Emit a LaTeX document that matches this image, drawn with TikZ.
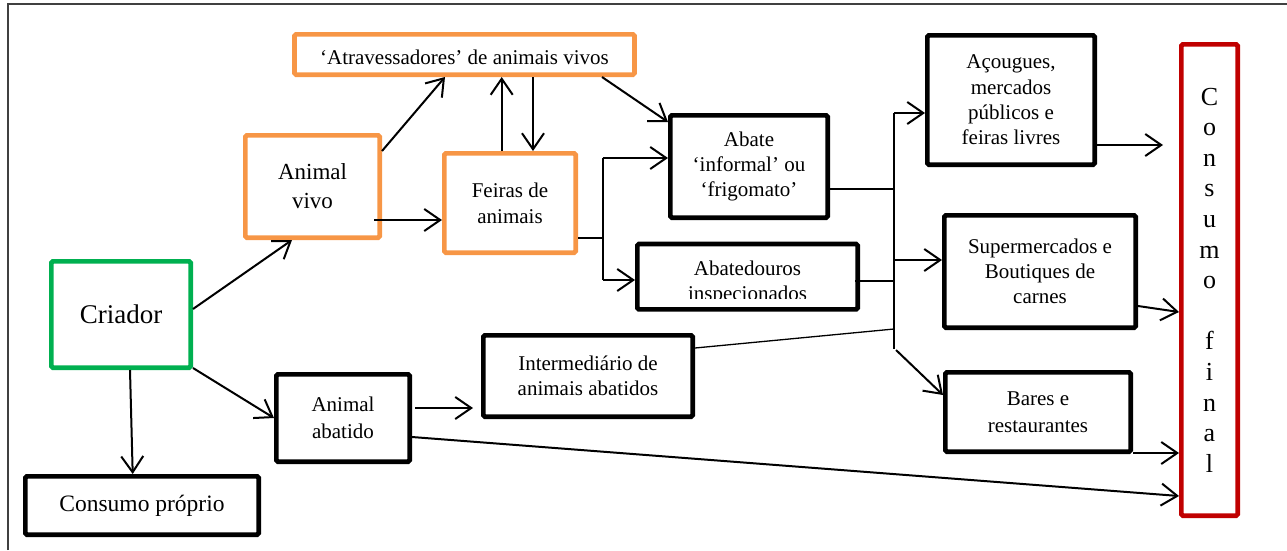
\documentclass[tikz,border=0pt]{standalone}
\usepackage{fontspec}
\setmainfont{Liberation Serif}
\usetikzlibrary{arrows.meta,calc}
\definecolor{orng}{RGB}{247,150,70}
\definecolor{grn}{RGB}{0,176,80}
\definecolor{rd}{RGB}{192,0,0}
\begin{document}
\begin{tikzpicture}[x=1pt,y=-1pt,
  box/.style={draw, line width=4.7pt, rounded corners=1.5pt, inner sep=0pt, align=center, font=\fontsize{21}{25.3}\selectfont},
  obox/.style={box, draw=orng},
  kbox/.style={box, draw=black},
  txt/.style={inner sep=0pt, font=\fontsize{21}{25.3}\selectfont},
  arr/.style={line width=2pt, -{Straight Barb[length=16pt,width=22pt]}},
  ln/.style={line width=2pt},
  thin/.style={line width=1.3pt}]
\useasboundingbox (0,0) rectangle (1287,550);
% frame
\draw[line width=1.3pt, black!75] (8,550) -- (8,4) -- (1287,4);

% boxes
\node[obox, minimum width=340pt, minimum height=40.3pt] (atr) at (464.5,54.5) {};
\begin{scope}
  \clip (295,35) rectangle (634,64.5);
  \node[txt, anchor=base] (atrt) at (464.5,64.5) {‘Atravessadores’ de animais vivos};
\end{scope}
\node[obox, minimum width=134.3pt, minimum height=102.3pt, font=\fontsize{23}{29}\selectfont] (viv) at (312.5,186.5) {Animal\\vivo};
\node[obox, minimum width=131.3pt, minimum height=99.3pt, font=\fontsize{21}{26}\selectfont] (fei) at (510,203) {Feiras de\\animais};
\node[kbox, minimum width=157.3pt, minimum height=102.3pt] (aba) at (749,166.5) {Abate\\‘informal’ ou\\‘frigomato’};
\node[kbox, minimum width=220.3pt, minimum height=65.3pt] (abd) at (747.5,276.7) {};
\begin{scope}
  \clip (640,245) rectangle (855,298.3);
  \node[txt, anchor=base] (abdt1) at (747.5,275) {Abatedouros};
  \node[txt, anchor=base] (abdt2) at (747.5,300) {inspecionados};
\end{scope}
\node[kbox, minimum width=167.3pt, minimum height=129.3pt] (aco) at (1011,100) {Açougues,\\mercados\\públicos e\\feiras livres};
\node[kbox, minimum width=191.3pt, minimum height=112.3pt] (sup) at (1040,271.5) {Supermercados e\\Boutiques de\\carnes};
\node[kbox, minimum width=185.3pt, minimum height=79.3pt, font=\fontsize{21}{26.7}\selectfont] (bar) at (1038,412) {Bares e\\restaurantes};
\node[box, draw=rd, minimum width=56.3pt, minimum height=471.3pt, font=\fontsize{26}{30.6}\selectfont] (con) at (1209.5,280) {C\\o\\n\\s\\u\\m\\o\\\mbox{}\\f\\i\\n\\a\\l};
\node[box, draw=grn, minimum width=139.3pt, minimum height=106.3pt, font=\fontsize{27}{32}\selectfont] (cri) at (121,314.5) {Criador};
\node[kbox, minimum width=133.3pt, minimum height=87.3pt, font=\fontsize{21}{26.7}\selectfont] (aab) at (343,418) {Animal\\abatido};
\node[kbox, minimum width=233.3pt, minimum height=58.3pt, font=\fontsize{23.5}{28}\selectfont] (cpr) at (142,505.5) {Consumo próprio};
\node[kbox, minimum width=209.3pt, minimum height=81.3pt, font=\fontsize{21}{24.5}\selectfont] (int) at (588,376) {Intermediário de\\animais abatidos};

% connectors
\draw[arr] ([yshift=5.5pt]cri.east) -- ([xshift=-20.5pt]viv.south);
\draw[arr] ([yshift=35.5pt]viv.east) -- ([xshift=-19.5pt]atr.south);
\draw[arr] ([xshift=-8pt,yshift=-33.5pt]viv.east) -- ([yshift=-17pt]fei.west);
\draw[arr] ([xshift=-8.3pt]fei.north) -- ([xshift=37.2pt]atr.south);
\draw[arr] ([xshift=68.5pt]atr.south) -- ([xshift=23pt]fei.north);
\draw[arr] ([xshift=137.5pt]atr.south) -- ([yshift=44.5pt]aba.west);

\coordinate (jt) at (602.7,158);
\coordinate (jb) at (602.7,280);
\coordinate (fo) at ([yshift=-34.7pt]fei.east);
\draw[ln] (fo) -- (fo -| jt);
\draw[ln] (jt) -- (jb);
\draw[arr] (jt) -- ([yshift=8.5pt]aba.west);
\draw[arr] (jb) -- (jb -| abd.west);

% bus
\coordinate (bt) at (894,113);
\coordinate (bb) at (894,349);
\coordinate (bs) at (894,260);
\coordinate (bi) at (894,329);
\coordinate (bd) at (896,350);
\draw[ln] (bt) -- (bb);
\coordinate (ao) at ([yshift=-22.5pt]aba.east);
\draw[ln] (ao) -- (ao -| bt);
\coordinate (do) at ([xshift=-5pt,yshift=-4pt]abd.east);
\draw[ln] (do) -- (do -| bt);
\draw[thin] ([yshift=28pt]int.east) -- (bi);
\draw[arr] (bt) -- ([yshift=-13pt]aco.west);
\draw[arr] (bs) -- ([yshift=11.5pt]sup.west);
\draw[arr] (bd) -- ([yshift=17pt]bar.west);

% to consumo final
\draw[arr] ([yshift=-45pt]aco.east) -- ([xshift=-16pt,yshift=135pt]con.west);
\draw[arr] ([yshift=-34.5pt]sup.east) -- ([yshift=-32pt]con.west);
\draw[arr] ([yshift=-41pt]bar.east) -- ([yshift=-173pt]con.west);
\draw[arr] ([yshift=-19pt]aab.east) -- ([yshift=-216pt]con.west);

% lower left
\draw[arr] ([xshift=3pt,yshift=10pt]aab.east) -- ([xshift=-8pt,yshift=-32pt]int.west);
\draw[arr] ([yshift=2pt]cri.south east) -- (aab.west);
\draw[arr] ([xshift=9pt]cri.south) -- ([xshift=-9.3pt]cpr.north);
\end{tikzpicture}
\end{document}
